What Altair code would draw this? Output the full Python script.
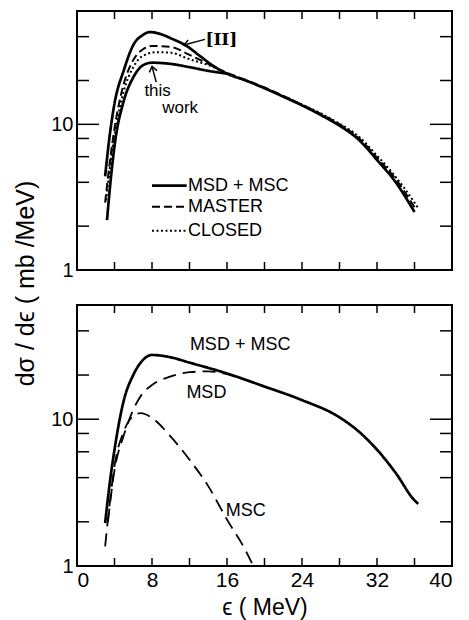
import altair as alt
import pandas as pd

FONT = "Liberation Sans"

# ---------------- top panel data ----------------
tail_E = [16, 18, 20, 22, 24, 26, 28, 30, 32, 34, 36]
tail_solid = [22.3, 20.0, 17.7, 15.5, 13.5, 11.6, 9.8, 7.9, 5.7, 4.0, 2.5]

ii_E = [3.0, 3.5, 4.0, 5.0, 6.0, 7.0, 7.8, 9.0, 10.0, 11.7, 13.1, 14.5] + tail_E
ii_v = [4.4, 8.5, 13.9, 23.6, 35.0, 41.0, 43.0, 41.5, 39.0, 34.5, 29.5, 25.3] + tail_solid

this_E = [3.2, 3.6, 4.05, 4.95, 6.0, 7.1, 8.0, 10.0, 12.0, 14.0, 16.0]
this_v = [2.2, 4.2, 7.5, 14.2, 21.0, 25.6, 26.5, 26.0, 24.7, 23.3, 22.3]

master_E = [3.0, 3.5, 4.05, 4.95, 6.0, 7.1, 8.0, 10.0, 12.0, 14.0] + tail_E
master_v = [2.9, 5.5, 9.8, 18.6, 27.6, 33.0, 34.5, 34.0, 30.0, 26.0,
            22.6, 20.2, 17.9, 15.7, 13.6, 11.8, 10.0, 8.1, 5.9, 4.2, 2.7]

closed_E = [3.1, 3.5, 4.05, 4.95, 6.0, 7.1, 8.5, 10.0, 12.0, 14.0] + tail_E + [36.4]
closed_v = [3.0, 5.0, 8.8, 16.6, 24.7, 29.7, 31.3, 31.0, 28.0, 25.5,
            22.4, 20.1, 17.8, 15.6, 13.7, 11.9, 10.1, 8.3, 6.1, 4.35, 2.9, 2.65]

# ---------------- bottom panel data ----------------
sum_E = [3.0, 3.5, 4.0, 5.0, 6.0, 7.0, 8.0, 10.0, 12.0, 16.0, 20.0, 24.0, 28.0, 30.0, 32.0, 34.0, 36.0, 36.4]
sum_v = [1.96, 3.7, 6.2, 13.5, 20.0, 25.2, 27.4, 26.4, 24.3, 20.5, 16.7, 13.5, 10.3, 8.3, 6.2, 4.3, 2.8, 2.65]

msd_E = [3.3, 4.0, 5.0, 6.0, 7.0, 8.0, 10.0, 12.0, 14.0, 16.0, 18.0, 20.0, 21.0]
msd_v = [2.0, 4.5, 7.8, 11.6, 15.0, 17.1, 19.6, 20.9, 21.2, 20.3, 18.5, 16.7, 15.9]

msc_E = [3.0, 3.5, 4.0, 5.0, 6.0, 6.8, 8.0, 10.0, 12.0, 14.0, 16.0, 18.0, 18.8]
msc_v = [1.36, 2.7, 4.8, 8.3, 10.5, 11.0, 10.2, 7.6, 5.3, 3.5, 2.07, 1.27, 1.0]

# ---------------- axes / ticks ----------------
x_labels = [0, 8, 16, 24, 32, 40]
x_ticks = [4, 8, 12, 16, 20, 24, 28, 32, 36]
y_labels = [1, 10]
y_ticks_minor = [2, 4, 6, 8, 20, 40]
y_ticks_major = [10]

# annotations
top_text_labels = ["[II]", "this", "work"]
top_text_E = [15.4, 8.6, 11.0]
top_text_v = [37.9, 16.9, 12.9]

legend_labels = ["MSD + MSC", "MASTER", "CLOSED"]
legend_v = [3.8, 2.72, 1.86]
legend_E_start, legend_E_end, legend_E_text = 8.0, 11.7, 11.85

bottom_text_labels = ["MSD + MSC", "MSD", "MSC"]
bottom_text_E = [17.4, 13.8, 18.0]
bottom_text_v = [31.9, 15.0, 2.37]

W, H1, H2 = 375, 259, 261

xs = alt.Scale(domain=[0, 40], nice=False, zero=False)
ys = alt.Scale(type="log", domain=[1, 60], nice=False)

x_axis_top = None
x_axis_bottom = alt.Axis(values=x_labels, ticks=False, tickSize=0, domain=False, grid=False,
                         labelFontSize=21, labelPadding=3, labelFont=FONT, labelColor="black",
                         title="ϵ ( MeV)", titleFontSize=23, titleFont=FONT, titleFontWeight="normal",
                         titleColor="black", titlePadding=6)
y_axis_top = alt.Axis(values=y_labels, format="d", ticks=False, tickSize=0, domain=False, grid=False,
                      labelFontSize=20, labelPadding=4, labelFont=FONT, labelColor="black",
                      title="dσ / dϵ   ( mb /MeV)", titleFontSize=25, titleFont=FONT,
                      titleFontWeight="normal", titleColor="black", titleY=272, titlePadding=12)
y_axis_bottom = alt.Axis(values=y_labels, format="d", ticks=False, tickSize=0, domain=False, grid=False,
                         labelFontSize=20, labelPadding=4, labelFont=FONT, labelColor="black", title=None)


def df_of(name, E, v):
    return pd.DataFrame({"E": E, "v": v, "series": name})


def curve(df, xa, ya, dash, width):
    return alt.Chart(df).mark_line(color="black", strokeWidth=width, strokeDash=dash,
                                   interpolate="monotone", clip=True).encode(
        x=alt.X("E:Q", scale=xs, axis=xa),
        y=alt.Y("v:Q", scale=ys, axis=ya),
        detail="series:N",
    )


def tick_layers(H, xa, ya):
    layers = []
    for vals, L in [(y_ticks_minor, 12), (y_ticks_major, 22)]:
        d = pd.DataFrame({"t": vals})
        layers.append(alt.Chart(d).mark_rule(color="black", strokeWidth=1.5).encode(
            y=alt.Y("t:Q", scale=ys, axis=ya), x=alt.value(0), x2=alt.value(L)))
        layers.append(alt.Chart(d).mark_rule(color="black", strokeWidth=1.5).encode(
            y=alt.Y("t:Q", scale=ys, axis=ya), x=alt.value(W), x2=alt.value(W - L)))
    d = pd.DataFrame({"t": x_ticks})
    layers.append(alt.Chart(d).mark_rule(color="black", strokeWidth=1.5).encode(
        x=alt.X("t:Q", scale=xs, axis=xa), y=alt.value(0), y2=alt.value(8)))
    layers.append(alt.Chart(d).mark_rule(color="black", strokeWidth=1.5).encode(
        x=alt.X("t:Q", scale=xs, axis=xa), y=alt.value(H), y2=alt.value(H - 8)))
    return layers


def texts(labels, E, v, xa, ya, size=18, font=FONT, weight="normal"):
    d = pd.DataFrame({"E": E, "v": v, "label": labels})
    return alt.Chart(d).mark_text(font=font, fontSize=size, fontWeight=weight, color="black",
                                  align="center", baseline="middle").encode(
        x=alt.X("E:Q", scale=xs, axis=xa), y=alt.Y("v:Q", scale=ys, axis=ya), text="label:N")


ARROW = "M1,-0.75L0,0L1,0.75"


def arrow(E0, v0, E1, v1, ang, xa, ya):
    d = pd.DataFrame({"E": [E0, E1], "v": [v0, v1]})
    shaft = alt.Chart(d).mark_line(color="black", strokeWidth=1.5).encode(
        x=alt.X("E:Q", scale=xs, axis=xa), y=alt.Y("v:Q", scale=ys, axis=ya))
    head = alt.Chart(d.iloc[[1]]).mark_point(shape=ARROW, size=110, filled=False, color="black",
                                             strokeWidth=1.5, angle=ang, opacity=1).encode(
        x=alt.X("E:Q", scale=xs, axis=xa), y=alt.Y("v:Q", scale=ys, axis=ya))
    return [shaft, head]


# ---------------- top panel ----------------
xa, ya = x_axis_top, y_axis_top
top_layers = tick_layers(H1, xa, ya)
top_layers += [
    curve(pd.concat([df_of("II", ii_E, ii_v), df_of("this", this_E, this_v)]), xa, ya, [1, 0], 2.7),
    curve(df_of("MASTER", master_E, master_v), xa, ya, [8, 4], 2.0),
    curve(df_of("CLOSED", closed_E, closed_v), xa, ya, [2, 2.5], 2.0),
]
top_layers.append(texts(top_text_labels[:1], top_text_E[:1], top_text_v[:1], xa, ya,
                        size=17, font="DejaVu Serif", weight="bold"))
top_layers.append(texts(top_text_labels[1:], top_text_E[1:], top_text_v[1:], xa, ya, size=17))
top_layers += arrow(13.65, 38.3, 11.4, 35.0, 347, xa, ya)
top_layers += arrow(8.45, 19.5, 8.0, 25.0, 77, xa, ya)

# legend (drawn with the scales)
for lab, lv, dash, wdt in zip(legend_labels, legend_v, [[1, 0], [8, 4], [2, 2.5]], [2.7, 2.0, 2.0]):
    d = pd.DataFrame({"E": [legend_E_start], "E2": [legend_E_end], "v": [lv]})
    top_layers.append(alt.Chart(d).mark_rule(color="black", strokeWidth=wdt, strokeDash=dash).encode(
        x=alt.X("E:Q", scale=xs, axis=xa), x2="E2:Q", y=alt.Y("v:Q", scale=ys, axis=ya)))
dleg = pd.DataFrame({"E": [legend_E_text] * 3, "v": legend_v, "label": legend_labels})
top_layers.append(alt.Chart(dleg).mark_text(font=FONT, fontSize=18, color="black", align="left",
                                            baseline="middle").encode(
    x=alt.X("E:Q", scale=xs, axis=xa), y=alt.Y("v:Q", scale=ys, axis=ya), text="label:N"))

top = alt.layer(*top_layers).properties(width=W, height=H1)

# ---------------- bottom panel ----------------
xa, ya = x_axis_bottom, y_axis_bottom
bot_layers = tick_layers(H2, xa, ya)
bot_layers += [
    curve(df_of("MSD+MSC", sum_E, sum_v), xa, ya, [1, 0], 2.7),
    curve(pd.concat([df_of("MSD", msd_E, msd_v), df_of("MSC", msc_E, msc_v)]), xa, ya, [13, 7], 1.8),
    texts(bottom_text_labels, bottom_text_E, bottom_text_v, xa, ya, size=18),
]
bottom = alt.layer(*bot_layers).properties(width=W, height=H2)

chart = alt.vconcat(top, bottom, spacing=35, bounds="flush").properties(
    padding={"left": 4, "top": 1, "right": 5, "bottom": 2},
    background="white",
).configure_view(stroke="black", strokeWidth=2)

chart.save("out.html", embed_options={"renderer": "svg", "actions": False})
